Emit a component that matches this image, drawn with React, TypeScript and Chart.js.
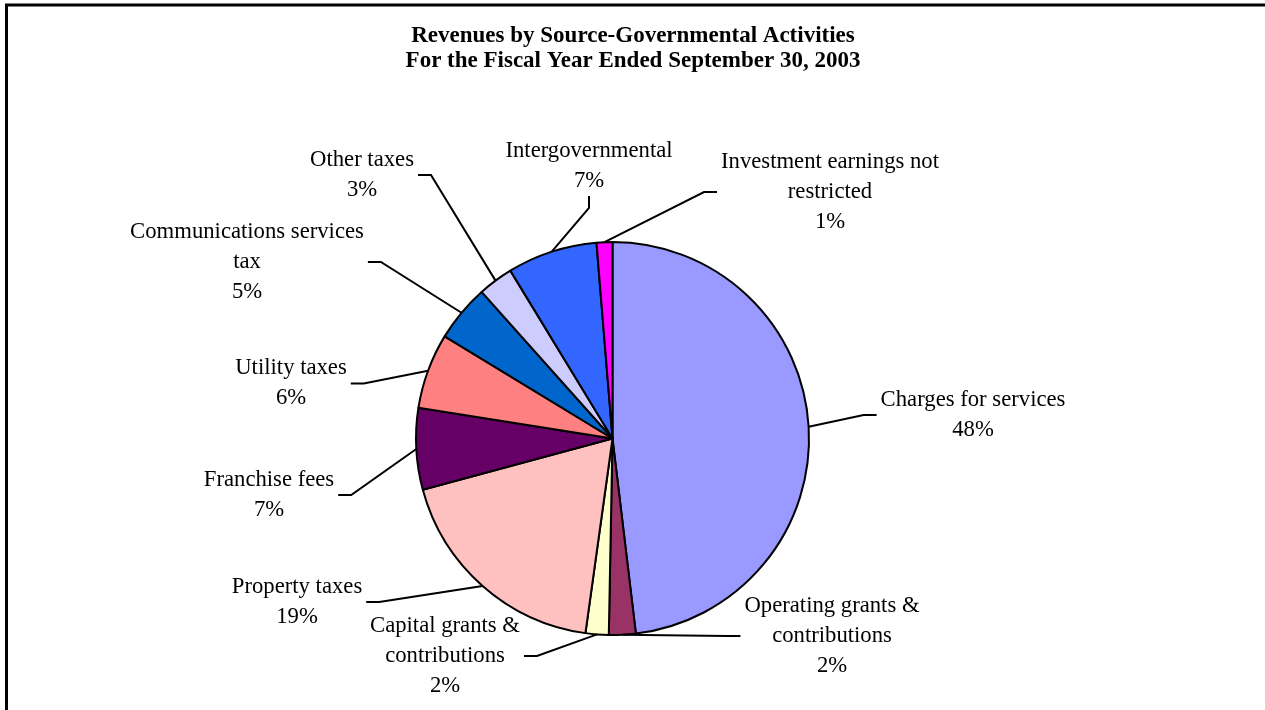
import React, { useEffect, useRef } from "react";
import { Chart, ArcElement, PieController } from "chart.js";

Chart.register(ArcElement, PieController);

const categories = [
  "Charges for services",
  "Operating grants & contributions",
  "Capital grants & contributions",
  "Property taxes",
  "Franchise fees",
  "Utility taxes",
  "Communications services tax",
  "Other taxes",
  "Intergovernmental",
  "Investment earnings not restricted",
];
const shares = [48.1, 2.2, 1.9, 18.6, 6.7, 6.2, 4.7, 2.9, 7.4, 1.3];
const sliceColors = [
  "#9999FF",
  "#993366",
  "#FFFFCC",
  "#FFC0C0",
  "#660066",
  "#FF8080",
  "#0066CC",
  "#CCCCFF",
  "#3366FF",
  "#FF00FF",
];
const titleLines = [
  "Revenues by Source-Governmental Activities",
  "For the Fiscal Year Ended September 30, 2003",
];

// label placement relative to the pie centre (layout only)
const labelLayout = [
  { dx: 360.5, dy: -23.5, side: "right" },
  { dx: 219.5, dy: 197.5, side: "right" },
  { dx: -167.5, dy: 217.5, side: "left" },
  { dx: -315.5, dy: 163.5, side: "left" },
  { dx: -343.5, dy: 56.5, side: "left" },
  { dx: -321.5, dy: -55, side: "left" },
  { dx: -365.5, dy: -176.5, side: "left" },
  { dx: -250.5, dy: -263.5, side: "left" },
  { dx: -23.5, dy: -272.5, side: "bottom" },
  { dx: 217.5, dy: -246.5, side: "right" },
];

const FONT = '"Liberation Serif", "Times New Roman", serif';

function wrap(ctx: CanvasRenderingContext2D, text: string, maxW: number) {
  const words = text.split(" ");
  const lines: string[] = [];
  let cur = "";
  for (const w of words) {
    const t = cur ? cur + " " + w : w;
    if (cur && ctx.measureText(t).width > maxW) {
      lines.push(cur);
      cur = w;
    } else cur = t;
  }
  if (cur) lines.push(cur);
  return lines;
}

const overlay = {
  id: "overlay",
  afterDraw(chart: any) {
    const ctx: CanvasRenderingContext2D = chart.ctx;
    ctx.save();
    // frame
    ctx.strokeStyle = "#000";
    ctx.lineWidth = 3;
    ctx.beginPath();
    ctx.moveTo(6.5, chart.height);
    ctx.lineTo(6.5, 5);
    ctx.lineTo(chart.width, 5);
    ctx.stroke();

    // title
    ctx.fillStyle = "#000";
    ctx.textAlign = "center";
    ctx.textBaseline = "middle";
    ctx.font = "bold 23px " + FONT;
    ctx.fillText(titleLines[0], 633, 36);
    ctx.fillText(titleLines[1], 633, 61);

    // labels + leaders
    const meta = chart.getDatasetMeta(0);
    const data: number[] = chart.data.datasets[0].data;
    const total = data.reduce((a, b) => a + b, 0);
    ctx.font = "22.7px " + FONT;
    const lh = 30;
    meta.data.forEach((arc: any, i: number) => {
      const p = arc.getProps(["x", "y", "startAngle", "endAngle", "outerRadius"], true);
      const mid = (p.startAngle + p.endAngle) / 2;
      const ex = p.x + Math.cos(mid) * p.outerRadius;
      const ey = p.y + Math.sin(mid) * p.outerRadius;
      const lay = labelLayout[i];
      const lx = p.x + lay.dx;
      const ly = p.y + lay.dy;
      const lines = wrap(ctx, chart.data.labels[i], 242);
      lines.push(Math.round((data[i] / total) * 100) + "%");
      const n = lines.length;
      let w = 0;
      lines.forEach((l) => (w = Math.max(w, ctx.measureText(l).width)));
      lines.forEach((l, k) => {
        ctx.fillText(l, lx, ly + (k - (n - 1) / 2) * lh);
      });
      let ax: number, ay: number, bx: number, by: number;
      if (lay.side === "left") {
        ax = lx + w / 2 + 4; ay = ly; bx = ax + 13; by = ly;
      } else if (lay.side === "right") {
        ax = lx - w / 2 - 4; ay = ly; bx = ax - 13; by = ly;
      } else {
        ax = lx; ay = ly + (n * lh) / 2; bx = lx; by = ay + 12;
      }
      ctx.lineWidth = 2;
      ctx.beginPath();
      ctx.moveTo(ax, ay);
      ctx.lineTo(bx, by);
      ctx.lineTo(ex, ey);
      ctx.stroke();
    });
    ctx.restore();
  },
};

export default function App() {
  const ref = useRef<HTMLCanvasElement | null>(null);
  useEffect(() => {
    if (!ref.current) return;
    const chart = new Chart(ref.current, {
      type: "pie",
      data: {
        labels: categories,
        datasets: [
          {
            data: shares,
            backgroundColor: sliceColors,
            borderColor: "#000",
            borderWidth: 2,
          },
        ],
      },
      options: {
        responsive: false,
        animation: false,
        radius: 196.5,
        layout: { padding: { left: 0, right: 40, top: 167, bottom: 0 } },
        plugins: { legend: { display: false }, tooltip: { enabled: false } },
      } as any,
      plugins: [overlay],
    });
    return () => chart.destroy();
  }, []);
  return (
    <div style={{ position: "absolute", left: 0, top: 0, width: 1265, height: 710, background: "#fff" }}>
      <canvas ref={ref} width={1265} height={710} />
    </div>
  );
}
